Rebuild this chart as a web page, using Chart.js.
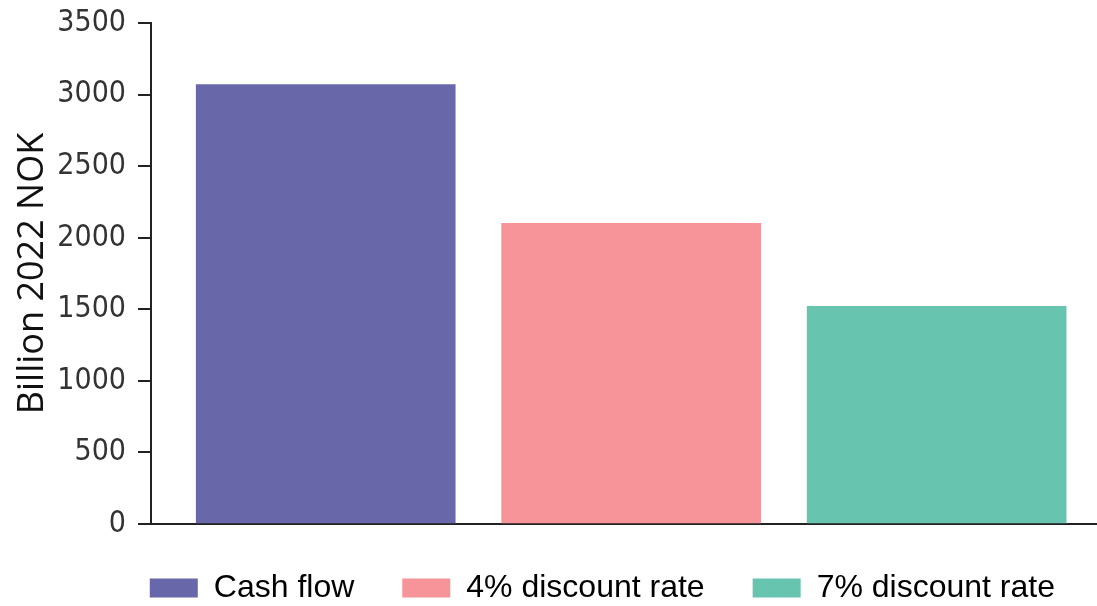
<!DOCTYPE html>
<html>
<head>
<meta charset="utf-8">
<script src="https://cdn.jsdelivr.net/npm/chart.js@4"></script>
<style>
  html, body { margin: 0; padding: 0; background: #fff; }
  #wrap { width: 1097px; height: 606px; position: relative; }
</style>
</head>
<body>
<div id="wrap"><canvas id="BarChart"></canvas></div>
<script>
const seriesNames = ['Cash flow', '4% discount rate', '7% discount rate'];
const seriesValues = [3070, 2100, 1520];
const seriesColors = ['#6767aa', '#f69499', '#66c4af'];
const yTicks = [0, 500, 1000, 1500, 2000, 2500, 3000, 3500];

// one dataset, one bar per series; the legend is built from the same lists
const barData = seriesNames.map((name, i) => ({ x: i, y: seriesValues[i] }));

var ctx = document.getElementById('BarChart').getContext('2d');
const BarChart = new Chart(ctx, {
    type: 'bar',
    data: {
        datasets: [{
            label: 'Billion 2022 NOK',
            data: barData,
            backgroundColor: seriesColors,
            borderWidth: 0,
            barThickness: 259,
        }],
    },
    options: {
        responsive: true,
        maintainAspectRatio: false,
        animation: false,
        layout: { padding: { top: 23, right: -6, bottom: -8, left: 0 } },
        plugins: {
            legend: {
                position: 'bottom',
                align: 'end',
                labels: {
                    boxWidth: 48,
                    boxHeight: 19,
                    padding: 48,
                    color: '#111',
                    font: { family: "'Liberation Sans', sans-serif", size: 32 },
                    generateLabels: () => seriesNames.map((name, i) => ({
                        text: name,
                        fillStyle: seriesColors[i],
                        strokeStyle: seriesColors[i],
                        lineWidth: 0,
                        hidden: false,
                        index: i,
                    })),
                },
                onClick: () => {},
            },
            tooltip: { enabled: false },
        },
        scales: {
            x: {
                type: 'linear',
                offset: false,
                min: -0.572,
                max: 2.525,
                afterFit: scale => { scale.height = 0; },
                grid: { display: false },
                ticks: { display: false },
                border: { display: true, color: '#222', width: 2 },
            },
            y: {
                min: yTicks[0],
                max: yTicks[yTicks.length - 1],
                afterFit: scale => {
                    scale.width = 151;
                    scale.paddingTop = 0;
                    scale.paddingBottom = 0;
                },
                afterBuildTicks: scale => { scale.ticks = yTicks.map(v => ({ value: v })); },
                grid: {
                    drawOnChartArea: false,
                    drawTicks: true,
                    tickLength: 13,
                    color: '#222',
                    lineWidth: 2,
                },
                border: { display: true, color: '#222', width: 2 },
                ticks: {
                    padding: 12,
                    color: '#333',
                    callback: v => String(v),
                    font: { family: "'DejaVu Sans Condensed', sans-serif", size: 30 },
                },
                title: {
                    display: true,
                    text: 'Billion 2022 NOK',
                    color: '#111',
                    padding: { top: 11, bottom: 0 },
                    font: { family: "'Open Sans', sans-serif", size: 36 },
                },
            },
        },
    },
});
</script>
</body>
</html>
